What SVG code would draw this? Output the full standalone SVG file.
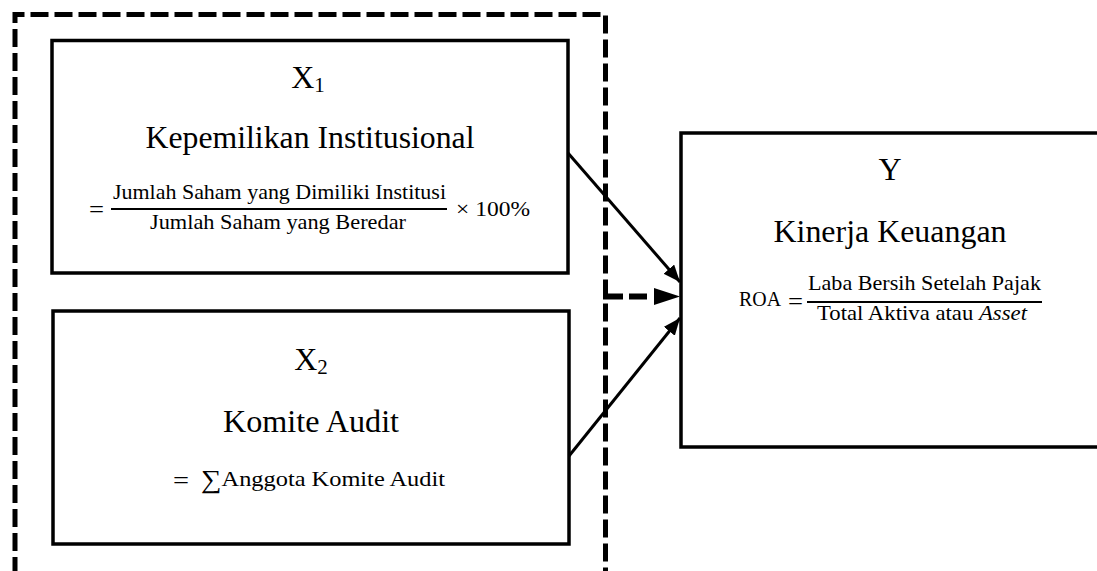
<svg xmlns="http://www.w3.org/2000/svg" width="1097" height="571" viewBox="0 0 1097 571">
<style>
.box{fill:#fff;stroke:#000;stroke-width:3.5}
.t{font-family:"Liberation Serif","Times New Roman",serif;fill:#000}
.big{font-size:32px}
.m{font-family:"Liberation Serif","Times New Roman",serif;font-size:22px;fill:#000}
.eq{font-family:"Liberation Serif","Times New Roman",serif;font-size:26px;fill:#000}
.frac{stroke:#000;stroke-width:1.8}
.edge{stroke:#000;stroke-width:3;fill:none}
.dash{stroke:#000;stroke-width:5;fill:none;stroke-dasharray:18 6}
</style>
<defs>
<marker id="ah" markerUnits="userSpaceOnUse" markerWidth="18" markerHeight="16" refX="17" refY="7" orient="auto">
<path d="M0,0 L17,7 L0,14 Z" fill="#000"/>
</marker>
</defs>
<rect width="1097" height="571" fill="#fff"/>
<g id="group-boundary">
<path class="dash" d="M15,575 V14.5 H605.5 V575"/>
</g>
<g id="node-x1">
<rect class="box" x="52" y="40.5" width="516" height="232.5"/>
<text class="t big" x="308" y="88" text-anchor="middle">X<tspan font-size="21" dy="4">1</tspan></text>
<text class="t big" x="310" y="148" text-anchor="middle" textLength="329" lengthAdjust="spacingAndGlyphs">Kepemilikan Institusional</text>
<text class="eq" x="89" y="218" textLength="15" lengthAdjust="spacingAndGlyphs">=</text>
<text class="m" x="279.5" y="198.5" text-anchor="middle" textLength="333" lengthAdjust="spacingAndGlyphs">Jumlah Saham yang Dimiliki Institusi</text>
<line class="frac" x1="111" y1="209" x2="447" y2="209"/>
<text class="m" x="278" y="228.5" text-anchor="middle" textLength="256" lengthAdjust="spacingAndGlyphs">Jumlah Saham yang Beredar</text>
<text class="m" x="456" y="216" textLength="74" lengthAdjust="spacingAndGlyphs">× 100%</text>
</g>
<g id="node-x2">
<rect class="box" x="53" y="311" width="516" height="233"/>
<text class="t big" x="311" y="370" text-anchor="middle">X<tspan font-size="21" dy="4">2</tspan></text>
<text class="t big" x="311" y="432" text-anchor="middle" textLength="176" lengthAdjust="spacingAndGlyphs">Komite Audit</text>
<text class="eq" x="173" y="489" textLength="16" lengthAdjust="spacingAndGlyphs">=</text>
<text class="m" x="201" y="486" textLength="244" lengthAdjust="spacingAndGlyphs"><tspan font-size="26" dy="2">∑</tspan><tspan dy="-2">Anggota Komite Audit</tspan></text>
</g>
<g id="node-y">
<rect class="box" x="681" y="133" width="430" height="314"/>
<text class="t big" x="890" y="180" text-anchor="middle">Y</text>
<text class="t big" x="890" y="242" text-anchor="middle" textLength="233" lengthAdjust="spacingAndGlyphs">Kinerja Keuangan</text>
<text class="m" x="739" y="306" font-size="21" textLength="42" lengthAdjust="spacingAndGlyphs">ROA</text>
<text class="eq" x="788" y="310" textLength="15" lengthAdjust="spacingAndGlyphs">=</text>
<text class="m" x="924.5" y="290" text-anchor="middle" textLength="233" lengthAdjust="spacingAndGlyphs">Laba Bersih Setelah Pajak</text>
<line class="frac" x1="807" y1="302" x2="1042" y2="302"/>
<text class="m" x="922" y="320" text-anchor="middle" textLength="210" lengthAdjust="spacingAndGlyphs">Total Aktiva atau <tspan font-style="italic">Asset</tspan></text>
</g>
<g id="connectors">
<line class="edge" x1="568" y1="153" x2="680" y2="282" marker-end="url(#ah)"/>
<line class="edge" x1="569" y1="456" x2="680" y2="318" marker-end="url(#ah)"/>
<path d="M603,296.5 H654" stroke="#000" stroke-width="6" fill="none" stroke-dasharray="20 6 18 7"/>
<path d="M654,288 L680,296.5 L654,305 Z" fill="#000"/>
</g>
</svg>
